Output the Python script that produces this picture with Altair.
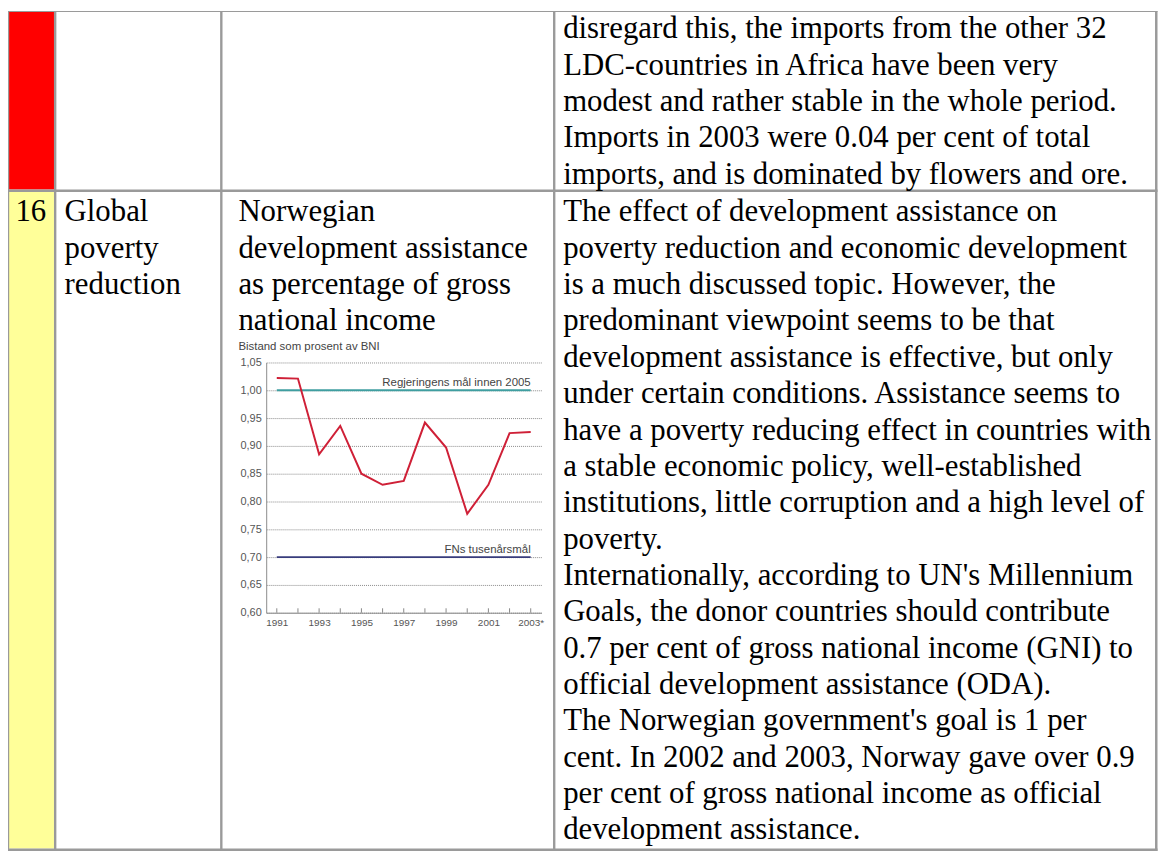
import altair as alt
import pandas as pd

# ---------------- data ----------------
years = list(range(1991, 2004))
share = [1.022, 1.021, 0.885, 0.936, 0.850, 0.830, 0.837, 0.942, 0.897, 0.778, 0.830, 0.923, 0.925]
y_ticks = [0.60, 0.65, 0.70, 0.75, 0.80, 0.85, 0.90, 0.95, 1.00, 1.05]
year_labels = [1991, 1993, 1995, 1997, 1999, 2001, 2003]
goal_values = [1.00, 0.70]
goal_labels = ["Regjeringens mål innen 2005", "FNs tusenårsmål"]
goal_colors = ["#3f9ea0", "#383c7c"]
chart_title = "Bistand som prosent av BNI"

row1_text = [
    "disregard this, the imports from the other 32",
    "LDC-countries in Africa have been very",
    "modest and rather stable in the whole period.",
    "Imports in 2003 were 0.04 per cent of total",
    "imports, and is dominated by flowers and ore.",
]
num_text = ["16"]
topic_text = ["Global", "poverty", "reduction"]
indicator_text = ["Norwegian", "development assistance", "as percentage of gross", "national income"]
row2_text = [
    "The effect of development assistance on",
    "poverty reduction and economic development",
    "is a much discussed topic. However, the",
    "predominant viewpoint seems to be that",
    "development assistance is effective, but only",
    "under certain conditions. Assistance seems to",
    "have a poverty reducing effect in countries with",
    "a stable economic policy, well-established",
    "institutions, little corruption and a high level of",
    "poverty.",
    "Internationally, according to UN's Millennium",
    "Goals, the donor countries should contribute",
    "0.7 per cent of gross national income (GNI) to",
    "official development assistance (ODA).",
    "The Norwegian government's goal is 1 per",
    "cent. In 2002 and 2003, Norway gave over 0.9",
    "per cent of gross national income as official",
    "development assistance.",
]

# ---------------- layout ----------------
W, H = 1159, 846          # canvas = page area from (8,8) to window edge
M = 8                     # page margin


def P(v):
    return v - M


one = pd.DataFrame({"k": [0]})
GRAY = "#9a9a9a"
SERIF = "Liberation Serif"
SANS = "Liberation Sans"
FS = 31
LH = 36.6


def rect(x0, y0, x1, y1, color):
    return alt.Chart(one).mark_rect(color=color, strokeWidth=0).encode(
        x=alt.value(P(x0)), x2=alt.value(P(x1)),
        y=alt.value(P(y0)), y2=alt.value(P(y1)))


def text_block(lines, x, y, align="left"):
    return alt.Chart(one).mark_text(
        font=SERIF, fontSize=FS, align=align, baseline="alphabetic",
        lineHeight=LH, color="#000000").encode(
        x=alt.value(P(x)), y=alt.value(P(y)), text=alt.value(lines))


layers = [
    rect(9, 9, 54.3, 187.8, "#ff0000"),
    rect(9, 190.4, 54.3, 851.5, "#ffff99"),
    rect(8, 8, 1165.5, 9.2, GRAY),
    rect(8, 8, 9.2, 854, GRAY),
    rect(1163, 8, 1165.5, 854, GRAY),
    rect(8, 851.5, 1165.5, 854, GRAY),
    rect(8, 187.8, 1165.5, 190.4, GRAY),
    rect(54.3, 8, 56.7, 854, GRAY),
    rect(221.6, 8, 224, 854, GRAY),
    rect(556.8, 8, 559.2, 854, GRAY),
    text_block(row1_text, 567, 35.5),
    text_block(num_text, 31, 220, align="center"),
    text_block(topic_text, 65, 220),
    text_block(indicator_text, 240, 220),
    text_block(row2_text, 567, 220),
]

# ---------------- inset chart ----------------
xs = alt.Scale(domain=[1990.5, 2003.5], range=[P(268), P(545)], nice=False, zero=False)
ys = alt.Scale(domain=[0.60, 1.05], range=[P(614), P(362)], nice=False, zero=False)

df = pd.DataFrame({"year": years, "share": share})
goals = pd.DataFrame({"value": goal_values, "label": goal_labels,
                      "start": [years[0]] * 2, "end": [years[-1]] * 2})

x_axis = alt.Axis(values=year_labels, labelExpr="datum.value == 2003 ? '2003*' : '' + datum.value",
                  ticks=False, grid=False, domainColor="#8c8c8c", labelFont=SANS,
                  labelFontSize=10, labelColor="#555555", labelPadding=5,
                  offset=-(H - P(614)), title=None, labelFlush=False,
                  labelOverlap=False, labelBound=False)
y_axis = alt.Axis(values=y_ticks, labelExpr="replace(format(datum.value, '.2f'), '.', ',')",
                  ticks=False, grid=True, gridDash=[1, 1], gridColor="#8a8a8a",
                  domainColor="#8c8c8c", labelFont=SANS, labelFontSize=11,
                  labelColor="#555555", labelPadding=5, offset=-P(268), title=None,
                  labelFlush=False, labelOverlap=False, labelBound=False)

tick_layer = alt.Chart(df).mark_rule(color="#888888", strokeWidth=1).encode(
    x=alt.X("year:Q", scale=xs, axis=x_axis),
    y=alt.Y(datum=0.60, scale=ys, axis=y_axis),
    y2=alt.Y2(datum=0.608),
)

goal_rules = alt.Chart(goals).mark_rule(strokeWidth=2).encode(
    x=alt.X("start:Q", scale=xs, title=None),
    x2=alt.X2("end:Q", title=None),
    y=alt.Y("value:Q", scale=ys, title=None),
    color=alt.Color("label:N", scale=alt.Scale(domain=goal_labels, range=goal_colors), legend=None),
)

goal_text = alt.Chart(goals).mark_text(
    align="right", baseline="alphabetic", dy=-4, font=SANS, fontSize=11.5,
    color="#444444").encode(
    x=alt.X("end:Q", scale=xs, title=None),
    y=alt.Y("value:Q", scale=ys, title=None),
    text="label:N",
)

line = alt.Chart(df).mark_line(color="#cf2037", strokeWidth=2).encode(
    x=alt.X("year:Q", scale=xs, title=None),
    y=alt.Y("share:Q", scale=ys, title=None),
)

title_layer = alt.Chart(one).mark_text(
    font=SANS, fontSize=11.5, align="left", baseline="middle", color="#444444").encode(
    x=alt.value(P(240)), y=alt.value(P(346)), text=alt.value(chart_title))

layers += [tick_layer, goal_rules, goal_text, line, title_layer]

chart = alt.layer(*layers).properties(
    width=W, height=H, padding=0,
    autosize=alt.AutoSizeParams(type="none"),
    background="white",
).configure_view(strokeWidth=0)

chart.save("out.html", embed_options={"renderer": "svg", "actions": False})
